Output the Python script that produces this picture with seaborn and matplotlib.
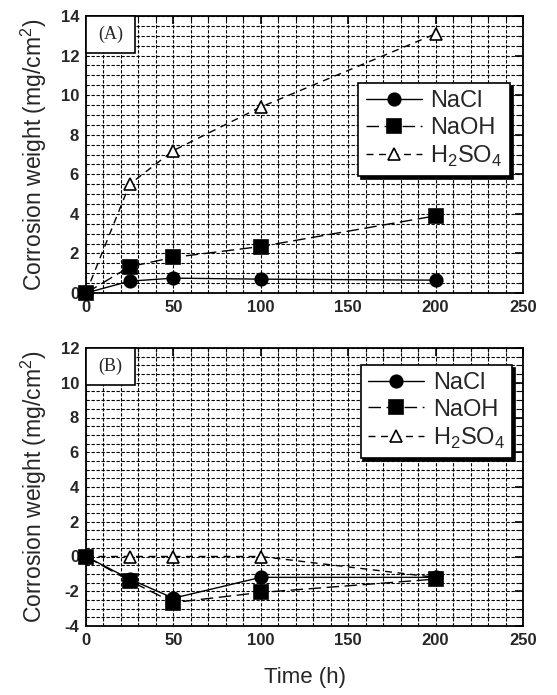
import matplotlib
matplotlib.use("Agg")
import matplotlib.pyplot as plt
from matplotlib.patches import Rectangle
from matplotlib.ticker import MultipleLocator
import seaborn as sns
import pandas as pd

# ---------------- data ----------------
time_h = [0, 25, 50, 100, 200]

# Panel (A)
a_nacl = [0.0, 0.6, 0.75, 0.7, 0.65]
a_naoh = [0.0, 1.33, 1.8, 2.35, 3.9]
a_h2so4 = [0.0, 5.5, 7.2, 9.4, 13.1]

# Panel (B)
b_nacl = [0.0, -1.3, -2.4, -1.2, -1.2]
b_naoh = [0.0, -1.4, -2.65, -2.07, -1.3]
b_h2so4 = [0.0, 0.0, 0.0, 0.0, -1.2]

series_names = ["NaCl", "NaOH", "H$_2$SO$_4$"]
panel_labels = ["(A)", "(B)"]
x_ticks = [0, 50, 100, 150, 200, 250]
a_yticks = [0, 2, 4, 6, 8, 10, 12, 14]
b_yticks = [-4, -2, 0, 2, 4, 6, 8, 10, 12]

# ---------------- style ----------------
sns.set_theme(style="white")
plt.rcParams["font.family"] = ["Liberation Sans", "DejaVu Sans"]
plt.rcParams["axes.unicode_minus"] = False
plt.rcParams["mathtext.fontset"] = "custom"
plt.rcParams["mathtext.rm"] = "Liberation Sans"

fig = plt.figure(figsize=(5.57, 6.95), dpi=100)
ax_a = fig.add_axes([86 / 557, 1 - 293 / 695, 437 / 557, 277 / 695])
ax_b = fig.add_axes([86 / 557, 1 - 626 / 695, 437 / 557, 278 / 695])

styles = {
    "NaCl": dict(marker="o", markersize=9, markerfacecolor="black",
                 linestyle="-", z=4),
    "NaOH": dict(marker="s", markersize=10, markerfacecolor="black",
                 linestyle=(0, (9, 4)), z=5),
    "H$_2$SO$_4$": dict(marker="^", markersize=9, markerfacecolor="white",
                        linestyle=(0, (5, 4)), z=3),
}


def draw_panel(ax, values, ylim, yticks, label, leg_anchor):
    df = pd.DataFrame({
        "Time": time_h * 3,
        "Weight": values[0] + values[1] + values[2],
        "Solution": [series_names[0]] * 5 + [series_names[1]] * 5 + [series_names[2]] * 5,
    })
    for name in series_names:
        sub = df[df["Solution"] == name]
        st = styles[name]
        sns.lineplot(data=sub, x="Time", y="Weight", ax=ax, color="black",
                     linewidth=1.0, marker=st["marker"],
                     markersize=st["markersize"],
                     markerfacecolor=st["markerfacecolor"],
                     markeredgecolor="black", markeredgewidth=1.2,
                     linestyle=st["linestyle"], label=name,
                     clip_on=False, zorder=st["z"])
    ax.set_xlim(0, 250)
    ax.set_ylim(*ylim)
    ax.set_xticks(x_ticks)
    ax.set_yticks(yticks)
    ax.xaxis.set_minor_locator(MultipleLocator(10))
    ax.yaxis.set_minor_locator(MultipleLocator(0.5))
    ax.grid(True, which="both", color="black", linestyle=(0, (3, 1.5)),
            linewidth=0.8)
    ax.set_axisbelow(True)
    ax.tick_params(which="both", direction="in", top=True, right=True,
                   color="black")
    ax.tick_params(which="major", length=6, width=1.2, labelsize=12, pad=5)
    ax.tick_params(which="minor", length=3, width=0.8)
    for lab in ax.get_xticklabels() + ax.get_yticklabels():
        lab.set_fontweight("bold")
    for sp in ax.spines.values():
        sp.set_color("black")
        sp.set_linewidth(1.3)
    ax.set_xlabel("")
    ax.set_ylabel("Corrosion weight (mg/cm$^2$)", fontsize=16.5, labelpad=8)

    # panel label box
    rect = Rectangle((0, 1), 0.112, -0.133, transform=ax.transAxes,
                     facecolor="white", edgecolor="black", linewidth=1.2,
                     zorder=5, clip_on=False)
    ax.add_patch(rect)
    ax.text(0.056, 1 - 0.0665, label, transform=ax.transAxes, ha="center",
            va="center", fontsize=13, family=["Liberation Serif"], zorder=6)

    handles, labels = ax.get_legend_handles_labels()
    leg = ax.legend(handles, labels, loc="upper right",
                    bbox_to_anchor=leg_anchor, fontsize=17, frameon=True,
                    fancybox=False, shadow={"color": "black", "alpha": 1.0},
                    handlelength=2.4, handletextpad=0.35, labelspacing=0.2,
                    borderpad=0.3, borderaxespad=0, numpoints=1)
    leg.get_frame().set_edgecolor("black")
    leg.get_frame().set_linewidth(1.2)
    leg.get_frame().set_alpha(1.0)
    leg.set_zorder(10)


draw_panel(ax_a, [a_nacl, a_naoh, a_h2so4], (0, 14), a_yticks, panel_labels[0],
           (0.970, 0.758))
draw_panel(ax_b, [b_nacl, b_naoh, b_h2so4], (-4, 12), b_yticks, panel_labels[1],
           (0.975, 0.939))

ax_b.set_xlabel("Time (h)", fontsize=16, labelpad=14)

fig.savefig("out.png", dpi=100)
